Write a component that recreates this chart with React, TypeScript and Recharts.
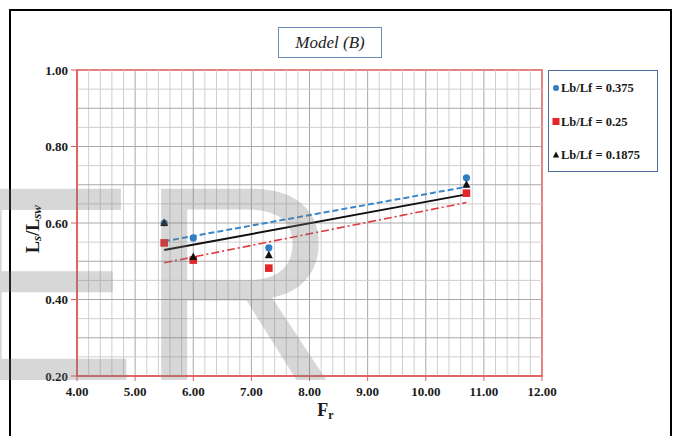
import React from 'react';
import {
  ComposedChart,
  Scatter,
  Line,
  XAxis,
  YAxis,
  ReferenceLine,
  ReferenceArea,
  Legend,
} from 'recharts';

// Froude numbers of the tested runs
const froude = [5.5, 6.0, 7.3, 10.7];
// Ls/Lsw measured for each baffle ratio
const ratio0375 = [0.6, 0.561, 0.535, 0.718];
const ratio025 = [0.548, 0.503, 0.482, 0.678];
const ratio01875 = [0.6, 0.511, 0.516, 0.7];

const xTicks = [4, 5, 6, 7, 8, 9, 10, 11, 12];
const yTicks = [0.2, 0.4, 0.6, 0.8, 1.0];

const SERIF = '"Liberation Serif", "Times New Roman", serif';

type Pt = { x: number; y: number };
const toPoints = (ys: number[]): Pt[] => froude.map((x, i) => ({ x, y: ys[i] }));

// least-squares trend line across the measured range
const trend = (ys: number[]): Pt[] => {
  const n = froude.length;
  const mx = froude.reduce((a, b) => a + b, 0) / n;
  const my = ys.reduce((a, b) => a + b, 0) / n;
  let sxy = 0;
  let sxx = 0;
  froude.forEach((x, i) => {
    sxy += (x - mx) * (ys[i] - my);
    sxx += (x - mx) * (x - mx);
  });
  const b = sxy / sxx;
  const a = my - b * mx;
  const x0 = Math.min(...froude);
  const x1 = Math.max(...froude);
  return [
    { x: x0, y: a + b * x0 },
    { x: x1, y: a + b * x1 },
  ];
};

// minor grid: every 0.2 along Fr, every 0.05 along Ls/Lsw
const minorX: number[] = [];
for (let i = 1; i < 40; i++) minorX.push(Math.round((4 + i * 0.2) * 100) / 100);
const minorY: number[] = [];
for (let i = 1; i < 16; i++) minorY.push(Math.round((0.2 + i * 0.05) * 100) / 100);

const GRID_LIGHT = '#cfcfcf';
const GRID_DARK = '#a9a9a9';

const BLUE = '#2f7dc4';
const RED = '#e4262a';
const BLACK = '#111111';

const Circle = (p: any) => <circle cx={p.cx} cy={p.cy} r={3.6} fill={BLUE} />;
const Square = (p: any) => (
  <rect x={p.cx - 3.8} y={p.cy - 3.8} width={7.6} height={7.6} fill={RED} />
);
const Triangle = (p: any) => (
  <polygon
    points={`${p.cx},${p.cy - 4.5} ${p.cx + 4},${p.cy + 3} ${p.cx - 4},${p.cy + 3}`}
    fill={BLACK}
  />
);

const legendItems = [
  { label: 'Lb/Lf = 0.375', kind: 'circle', color: BLUE },
  { label: 'Lb/Lf = 0.25', kind: 'square', color: RED },
  { label: 'Lb/Lf = 0.1875', kind: 'triangle', color: BLACK },
];

const LegendBox = () => (
  <div
    style={{
      width: 110,
      height: 102,
      border: '1.5px solid #4a6c9a',
      background: '#fff',
      boxSizing: 'border-box',
      position: 'relative',
    }}
  >
    <svg width={110} height={102} style={{ position: 'absolute', left: 0, top: 0 }}>
      {legendItems.map((it, i) => {
        const cy = 17 + i * 33.5;
        const cx = 7;
        let marker;
        if (it.kind === 'circle') marker = <circle cx={cx} cy={cy} r={3} fill={it.color} />;
        else if (it.kind === 'square')
          marker = <rect x={cx - 3.5} y={cy - 3.5} width={7} height={7} fill={it.color} />;
        else
          marker = (
            <polygon
              points={`${cx},${cy - 3.5} ${cx + 3.2},${cy + 2.5} ${cx - 3.2},${cy + 2.5}`}
              fill={it.color}
            />
          );
        return (
          <g key={it.label}>
            {marker}
            <text
              x={12}
              y={cy + 4}
              fontFamily={SERIF}
              fontWeight="bold"
              fontSize={12.5}
              fill="#1a1a1a"
            >
              {it.label}
            </text>
          </g>
        );
      })}
    </svg>
  </div>
);

const XTitle = (props: any) => {
  const vb = props.viewBox || { x: 0, y: 0, width: 0 };
  const cx = vb.x + vb.width / 2 + 16;
  return (
    <text x={cx} y={vb.y + 40} textAnchor="middle" fontFamily={SERIF} fontWeight="bold" fill="#1a1a1a">
      <tspan fontSize={18}>F</tspan>
      <tspan fontSize={12} dy={3}>r</tspan>
    </text>
  );
};

const YTitle = (props: any) => {
  const vb = props.viewBox || { x: 0, y: 0, height: 0 };
  const cx = vb.x + 13;
  const cy = vb.y + vb.height / 2 + 6;
  return (
    <text
      x={cx}
      y={cy}
      textAnchor="middle"
      transform={`rotate(-90, ${cx}, ${cy})`}
      fontFamily={SERIF}
      fontWeight="bold"
      fill="#1a1a1a"
      dy={6}
    >
      <tspan fontSize={18}>L</tspan>
      <tspan fontSize={13} fontStyle="italic" dy={2}>s</tspan>
      <tspan fontSize={18} dy={-2}>/L</tspan>
      <tspan fontSize={13} fontStyle="italic" dy={2}>sw</tspan>
    </text>
  );
};

export default function App() {
  return (
    <div style={{ position: 'absolute', left: 0, top: 0, width: 685, height: 436, background: '#fff', overflow: 'hidden' }}>
      {/* outer frame */}
      <div
        style={{
          position: 'absolute',
          left: 9,
          top: 9,
          width: 663,
          height: 450,
          border: '2.5px solid #000',
          boxSizing: 'border-box',
        }}
      />
      {/* title box */}
      <div
        style={{
          position: 'absolute',
          left: 278,
          top: 27,
          width: 104,
          height: 31,
          border: '1.2px solid #6a8bb8',
          boxSizing: 'border-box',
          background: '#fff',
          fontFamily: SERIF,
          fontStyle: 'italic',
          fontSize: 17,
          color: '#222',
          display: 'flex',
          alignItems: 'center',
          justifyContent: 'center',
        }}
      >
        Model (B)
      </div>
      <div style={{ position: 'absolute', left: 0, top: 0 }}>
        <ComposedChart
          width={685}
          height={436}
          margin={{ top: 70, right: 143, bottom: 30, left: 20 }}
        >
          <XAxis
            type="number"
            dataKey="x"
            domain={[4, 12]}
            ticks={xTicks}
            allowDataOverflow
            height={30}
            tickFormatter={(v: number) => v.toFixed(2)}
            tick={{ fontFamily: SERIF, fontWeight: 'bold', fontSize: 13, fill: '#1a1a1a' }}
            axisLine={{ stroke: '#e05a5a', strokeWidth: 1.5 }}
            tickLine={{ stroke: '#e05a5a' }}
            tickSize={5}
            tickMargin={6}
            label={{ content: XTitle }}
          />
          <YAxis
            type="number"
            dataKey="y"
            domain={[0.2, 1.0]}
            ticks={yTicks}
            allowDataOverflow
            width={57}
            tickFormatter={(v: number) => v.toFixed(2)}
            tick={{ fontFamily: SERIF, fontWeight: 'bold', fontSize: 13, fill: '#1a1a1a' }}
            axisLine={{ stroke: '#e05a5a', strokeWidth: 1.5 }}
            tickLine={{ stroke: '#e05a5a' }}
            tickSize={6}
            tickMargin={3}
            label={{ content: YTitle }}
          />
          {minorX.map((v) => (
            <ReferenceLine
              key={`vx${v}`}
              x={v}
              stroke={Number.isInteger(v) ? GRID_DARK : GRID_LIGHT}
              strokeWidth={1}
            />
          ))}
          {minorY.map((v) => (
            <ReferenceLine
              key={`hy${v}`}
              y={v}
              stroke={Math.round(v * 100) % 10 === 0 ? GRID_DARK : GRID_LIGHT}
              strokeWidth={1}
            />
          ))}
          <ReferenceArea
            x1={4}
            x2={12}
            y1={0.2}
            y2={1.0}
            fill="none"
            stroke="#e05a5a"
            strokeWidth={1.5}
          />
          <Line
            data={trend(ratio0375)}
            dataKey="y"
            stroke="#3a86c8"
            strokeWidth={2}
            strokeDasharray="6 3"
            dot={false}
            legendType="none"
            isAnimationActive={false}
          />
          <Line
            data={trend(ratio025)}
            dataKey="y"
            stroke="#e0393d"
            strokeWidth={1.6}
            strokeDasharray="8 3 2 3"
            dot={false}
            legendType="none"
            isAnimationActive={false}
          />
          <Line
            data={trend(ratio01875)}
            dataKey="y"
            stroke={BLACK}
            strokeWidth={2}
            dot={false}
            legendType="none"
            isAnimationActive={false}
          />
          <Scatter name="Lb/Lf = 0.375" data={toPoints(ratio0375)} dataKey="y" shape={Circle} isAnimationActive={false} />
          <Scatter name="Lb/Lf = 0.25" data={toPoints(ratio025)} dataKey="y" shape={Square} isAnimationActive={false} />
          <Scatter name="Lb/Lf = 0.1875" data={toPoints(ratio01875)} dataKey="y" shape={Triangle} isAnimationActive={false} />
          <Legend
            layout="vertical"
            align="center"
            verticalAlign="middle"
            content={() => <LegendBox />}
            wrapperStyle={{ left: 548, top: 70, width: 110, height: 102 }}
          />
        </ComposedChart>
      </div>
      {/* large grey overlay lettering */}
      <svg
        width={685}
        height={436}
        style={{ position: 'absolute', left: 0, top: 0, pointerEvents: 'none' }}
      >
        <text
          x={-47}
          y={380}
          fontFamily='"Liberation Sans", Arial, sans-serif'
          fontSize={278}
          fill="#7a7a7a"
          fillOpacity={0.3}
        >
          ER
        </text>
      </svg>
    </div>
  );
}
